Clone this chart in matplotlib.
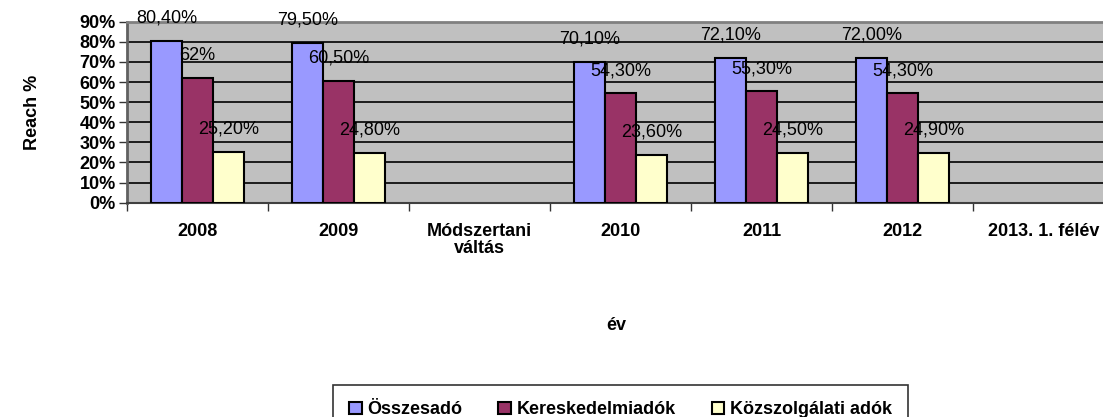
import matplotlib
matplotlib.use("Agg")
import matplotlib.pyplot as plt
import numpy as np

plt.rcParams['font.family'] = ['Liberation Sans', 'DejaVu Sans']

# Categories and series
categories = ['2008', '2009', 'Módszertani\nváltás', '2010', '2011', '2012', '2013. 1. félév']
series_names = ['Összesadó', 'Kereskedelmiadók', 'Közszolgálati adók']
osszes = [80.4, 79.5, np.nan, 70.1, 72.1, 72.0, np.nan]
kereskedelmi = [62.0, 60.5, np.nan, 54.3, 55.3, 54.3, np.nan]
kozszolgalati = [25.2, 24.8, np.nan, 23.6, 24.5, 24.9, np.nan]
osszes_labels = ['80,40%', '79,50%', '', '70,10%', '72,10%', '72,00%', '']
kereskedelmi_labels = ['62%', '60,50%', '', '54,30%', '55,30%', '54,30%', '']
kozszolgalati_labels = ['25,20%', '24,80%', '', '23,60%', '24,50%', '24,90%', '']
yticks = [0, 10, 20, 30, 40, 50, 60, 70, 80, 90]

colors = ['#9999FF', '#993366', '#FFFFCC']

fig = plt.figure(figsize=(11.03, 4.17), dpi=100)
ax = fig.add_axes([0.1151, 0.514, 0.895, 0.434])
ax.set_facecolor('#C0C0C0')

x = np.arange(len(categories))
w = 0.22
all_vals = [osszes, kereskedelmi, kozszolgalati]
all_labels = [osszes_labels, kereskedelmi_labels, kozszolgalati_labels]
for i, (vals, labs) in enumerate(zip(all_vals, all_labels)):
    pos = x + (i - 1) * w
    ax.bar(pos, vals, w, color=colors[i], edgecolor='black', linewidth=1.5,
           label=series_names[i], zorder=3)
    for xp, v, lab in zip(pos, vals, labs):
        if lab:
            ax.annotate(lab, (xp, v), xytext=(0, 16.5), textcoords='offset points',
                        ha='center', va='center', fontsize=13, zorder=5)

ax.set_xlim(-0.5, len(categories) - 0.5)
ax.set_ylim(0, 90)
ax.set_yticks(yticks)
ax.set_yticklabels([f'{t}%' for t in yticks], fontsize=13, fontweight='bold')
ax.yaxis.grid(True, color='black', linewidth=1.2, zorder=0)
ax.set_axisbelow(True)

# category boundaries as ticks, names in the middle
ax.set_xticks(np.arange(-0.5, len(categories), 1.0))
ax.set_xticklabels([])
ax.set_xticks(x, minor=True)
ax.set_xticklabels(categories, minor=True, fontsize=13, fontweight='bold', linespacing=1.0)
ax.tick_params(axis='x', which='minor', length=0, pad=15)
ax.tick_params(axis='x', which='major', length=6, width=1, color='#333333', direction='out')
ax.tick_params(axis='y', length=6, width=1, color='#333333', direction='out', pad=2)

ax.spines['right'].set_visible(False)
ax.spines['top'].set_color('#808080')
ax.spines['top'].set_linewidth(2)
ax.spines['left'].set_color('#606060')
ax.spines['left'].set_linewidth(2)
ax.spines['bottom'].set_color('#404040')
ax.spines['bottom'].set_linewidth(1.5)

ax.set_ylabel('Reach %', fontsize=13, fontweight='bold', labelpad=28)
fig.text(0.559, 1 - 325 / 417, 'év', ha='center', va='center', fontsize=13, fontweight='bold')

leg = fig.legend(loc='upper left', bbox_to_anchor=(333 / 1103, 1 - 385 / 417, 575 / 1103, 0.0),
                 mode='expand', ncol=3, frameon=True, fancybox=False, edgecolor='black',
                 borderpad=0.9, handlelength=0.7, handleheight=0.7, handletextpad=0.3,
                 prop={'size': 13, 'weight': 'bold'}, borderaxespad=0)
leg.get_frame().set_linewidth(1.2)

fig.savefig('out.png', dpi=100)
